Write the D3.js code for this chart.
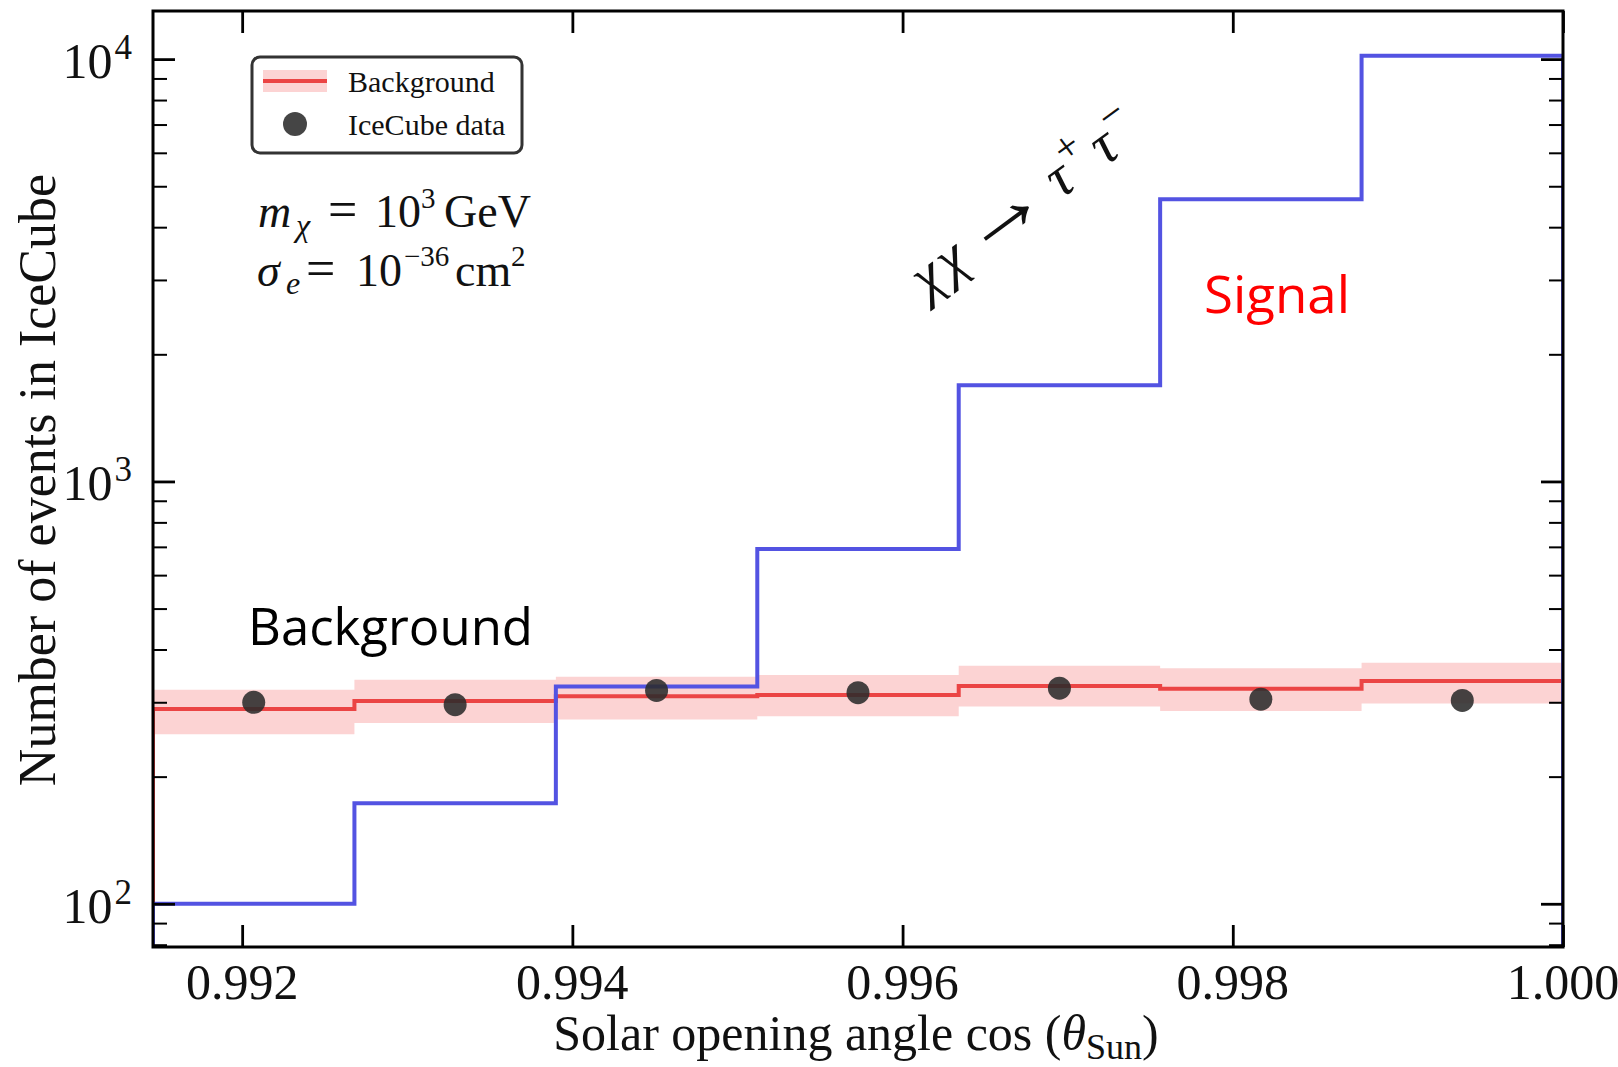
<!DOCTYPE html>
<html><head><meta charset="utf-8">
<script src="https://cdn.jsdelivr.net/npm/d3@7"></script>
<style>
body{margin:0;background:#fff;}
svg text{font-family:"Liberation Serif","Times New Roman",serif;fill:#111;}
.hand{font-family:"Comic Sans MS","Open Sans","Lato",sans-serif;}
</style>
</head><body>
<svg id="chart" width="1618" height="1067"></svg>
<script>
// ---------------- data ----------------
const binEdges = [0.99146, 0.99268, 0.99390, 0.99512, 0.99634, 0.99756, 0.99878, 1.0];
const signalCounts = [100, 173, 327, 692, 1690, 4660, 10180];
const backgroundCounts = [289, 302, 310, 312, 328, 323, 337];
const backgroundUpper = [321, 339, 345, 348, 366, 361, 372];
const backgroundLower = [252, 268, 273, 278, 293, 286, 298];
const iceCubeData = [300, 296, 320, 316, 324, 305, 303];
const xTickValues = [0.992, 0.994, 0.996, 0.998, 1.000];
const xTickLabels = ["0.992", "0.994", "0.996", "0.998", "1.000"];
const yMajorTicks = [100, 1000, 10000];
const yTickExponents = ["2", "3", "4"];
const yDomain = [79, 13000];

// ---------------- layout ----------------
const L = 153, R = 1563, T = 11, B = 947;
const svg = d3.select("#chart");
const x = d3.scaleLinear().domain([binEdges[0], binEdges[binEdges.length - 1]]).range([L, R]);
const y = d3.scaleLog().domain(yDomain).range([B, T]);

svg.append("defs").append("clipPath").attr("id", "plotclip")
  .append("rect").attr("x", L).attr("y", T).attr("width", R - L).attr("height", B - T);

const plot = svg.append("g").attr("clip-path", "url(#plotclip)");

// band
const bandPts = [];
backgroundCounts.forEach((v, i) => {
  bandPts.push({x: binEdges[i], lo: backgroundLower[i], hi: backgroundUpper[i]});
  bandPts.push({x: binEdges[i + 1], lo: backgroundLower[i], hi: backgroundUpper[i]});
});
plot.append("path").datum(bandPts)
  .attr("d", d3.area().x(d => x(d.x)).y0(d => y(d.lo)).y1(d => y(d.hi)))
  .attr("fill", "#fcd3d3").attr("stroke", "none");

function stepPts(vals) {
  const pts = [{x: binEdges[0], v: 1}];
  vals.forEach((v, i) => { pts.push({x: binEdges[i], v}); pts.push({x: binEdges[i + 1], v}); });
  pts.push({x: binEdges[binEdges.length - 1], v: 1});
  return pts;
}
const stepLine = d3.line().x(d => x(d.x)).y(d => y(d.v));

plot.append("path").datum(stepPts(backgroundCounts)).attr("d", stepLine)
  .attr("fill", "none").attr("stroke", "#eb4444").attr("stroke-width", 4);
plot.append("path").datum(stepPts(signalCounts)).attr("d", stepLine)
  .attr("fill", "none").attr("stroke", "#5353e2").attr("stroke-width", 4);

// data points
plot.selectAll("circle.dp").data(iceCubeData).enter().append("circle")
  .attr("class", "dp")
  .attr("cx", (d, i) => x((binEdges[i] + binEdges[i + 1]) / 2))
  .attr("cy", d => y(d)).attr("r", 11.5)
  .attr("fill", "#2b2b2b").attr("fill-opacity", 0.88);

// ---------------- axes / ticks ----------------
const minorTicks = [];
[10, 100, 1000].forEach(b => { for (let k = 2; k <= 9; k++) { const v = k * b; if (v > yDomain[0] && v < yDomain[1] && !yMajorTicks.includes(v)) minorTicks.push(v); } });

function addAxis(gen, tx, ty, w) {
  const g = svg.append("g").attr("transform", `translate(${tx},${ty})`).call(gen);
  g.select(".domain").remove();
  g.selectAll(".tick line").attr("stroke", "#000").attr("stroke-width", w);
  g.selectAll(".tick text").remove();
  return g;
}
addAxis(d3.axisLeft(y).tickValues(yMajorTicks).tickSize(-22).tickFormat(""), L, 0, 2.8);
addAxis(d3.axisLeft(y).tickValues(minorTicks).tickSize(-14).tickFormat(""), L, 0, 2);
addAxis(d3.axisRight(y).tickValues(yMajorTicks).tickSize(-22).tickFormat(""), R, 0, 2.8);
addAxis(d3.axisRight(y).tickValues(minorTicks).tickSize(-14).tickFormat(""), R, 0, 2);
addAxis(d3.axisBottom(x).tickValues(xTickValues).tickSize(-22).tickFormat(""), 0, B, 2.8);
addAxis(d3.axisTop(x).tickValues(xTickValues).tickSize(-22).tickFormat(""), 0, T, 2.8);

svg.append("rect").attr("x", L).attr("y", T).attr("width", R - L).attr("height", B - T)
  .attr("fill", "none").attr("stroke", "#000").attr("stroke-width", 3);

// tick labels
xTickValues.forEach((v, i) => {
  svg.append("text").attr("x", x(v)).attr("y", 999).attr("text-anchor", "middle")
    .attr("font-size", 50).text(xTickLabels[i]);
});
yMajorTicks.forEach((v, i) => {
  const t = svg.append("text").attr("x", 132).attr("y", y(v) + 19).attr("text-anchor", "end").attr("font-size", 50);
  t.append("tspan").text("10");
  t.append("tspan").attr("font-size", 35).attr("dy", -19).attr("dx", 2).text(yTickExponents[i]);
});

// axis titles
const xl = svg.append("text").attr("x", 856).attr("y", 1050).attr("text-anchor", "middle").attr("font-size", 50);
xl.append("tspan").text("Solar opening angle cos (");
xl.append("tspan").attr("font-style", "italic").text("θ");
xl.append("tspan").attr("font-size", 36).attr("dy", 9).text("Sun");
xl.append("tspan").attr("dy", -9).text(")");

svg.append("text").attr("transform", "translate(55,480) rotate(-90)").attr("text-anchor", "middle")
  .attr("font-size", 52).text("Number of events in IceCube");

// ---------------- legend ----------------
const lg = svg.append("g");
lg.append("rect").attr("x", 252).attr("y", 57).attr("width", 270).attr("height", 96).attr("rx", 8)
  .attr("fill", "#fff").attr("stroke", "#333").attr("stroke-width", 3);
lg.append("rect").attr("x", 263).attr("y", 70).attr("width", 64).attr("height", 22).attr("fill", "#fcd3d3");
lg.append("line").attr("x1", 263).attr("x2", 327).attr("y1", 81).attr("y2", 81).attr("stroke", "#eb4444").attr("stroke-width", 4);
lg.append("text").attr("x", 348).attr("y", 92).attr("font-size", 30).text("Background");
lg.append("circle").attr("cx", 295).attr("cy", 124).attr("r", 12).attr("fill", "#2b2b2b").attr("fill-opacity", 0.88);
lg.append("text").attr("x", 348).attr("y", 135).attr("font-size", 30).text("IceCube data");

// ---------------- annotations ----------------
const a1 = svg.append("text").attr("y", 227).attr("font-size", 46);
a1.append("tspan").attr("x", 258).attr("font-style", "italic").text("m");
a1.append("tspan").attr("x", 296).attr("dy", 9).attr("font-size", 32).attr("font-style", "italic").text("χ");
a1.append("tspan").attr("x", 328).attr("dy", -9).attr("font-size", 52).text("=");
a1.append("tspan").attr("x", 375).text("10");
a1.append("tspan").attr("x", 421).attr("dy", -19).attr("font-size", 29).text("3");
a1.append("tspan").attr("x", 444).attr("dy", 19).text("GeV");

const a2 = svg.append("text").attr("y", 286).attr("font-size", 46);
a2.append("tspan").attr("x", 257).attr("font-style", "italic").text("σ");
a2.append("tspan").attr("x", 286).attr("dy", 8).attr("font-size", 32).attr("font-style", "italic").text("e");
a2.append("tspan").attr("x", 306).attr("dy", -8).attr("font-size", 52).text("=");
a2.append("tspan").attr("x", 356).text("10");
a2.append("tspan").attr("x", 404).attr("dy", -20).attr("font-size", 29).text("−36");
a2.append("tspan").attr("x", 455).attr("dy", 20).text("cm");
a2.append("tspan").attr("x", 511).attr("dy", -20).attr("font-size", 29).text("2");

const a3 = svg.append("text").attr("transform", "translate(1036,218) rotate(-36.5)")
  .attr("text-anchor", "middle").attr("font-size", 58).attr("font-style", "italic");
a3.append("tspan").text("χ");
a3.append("tspan").attr("dx", 4).text("χ");
a3.append("tspan").attr("dx", 8).attr("font-style", "normal").attr("font-size", 92).attr("dy", 2).text("→");
a3.append("tspan").attr("dx", 12).attr("dy", -2).text("τ");
a3.append("tspan").attr("font-size", 42).attr("dy", -25).text("+");
a3.append("tspan").attr("dx", 6).attr("dy", 25).text("τ");
a3.append("tspan").attr("font-size", 42).attr("dy", -25).text("−");

svg.append("text").attr("class", "hand").attr("x", 1204).attr("y", 313).attr("font-size", 52)
  .attr("textLength", 146).attr("lengthAdjust", "spacingAndGlyphs").style("fill", "#ff0000").text("Signal");
svg.append("text").attr("class", "hand").attr("x", 248).attr("y", 645).attr("font-size", 52)
  .attr("textLength", 285).attr("lengthAdjust", "spacingAndGlyphs").style("fill", "#000").text("Background");
</script>
</body></html>
